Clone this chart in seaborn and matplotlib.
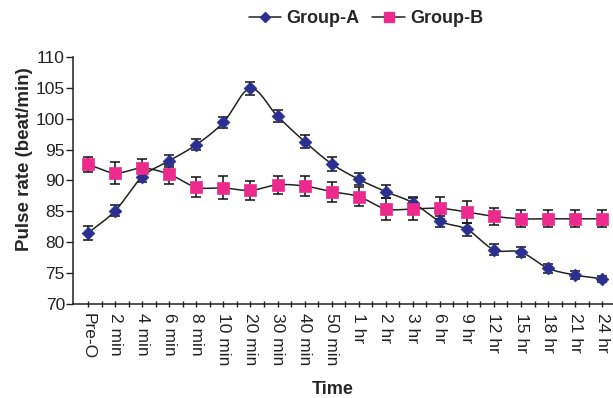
import numpy as np
import matplotlib
matplotlib.use("Agg")
import matplotlib.pyplot as plt
from matplotlib.lines import Line2D
import seaborn as sns
import pandas as pd

categories = ["Pre-O", "2 min", "4 min", "6 min", "8 min", "10 min", "20 min", "30 min",
              "40 min", "50 min", "1 hr", "2 hr", "3 hr", "6 hr", "9 hr", "12 hr",
              "15 hr", "18 hr", "21 hr", "24 hr"]
group_a = [81.5, 85.1, 90.6, 93.2, 95.8, 99.4, 104.9, 100.4, 96.3, 92.7,
           90.2, 88.2, 86.4, 83.4, 82.1, 78.8, 78.4, 75.8, 74.7, 74.1]
group_a_err = [1.2, 0.9, 0.8, 0.95, 0.9, 0.95, 1.0, 0.95, 1.0, 1.1,
               1.0, 1.0, 1.0, 0.85, 1.1, 0.85, 0.85, 0.75, 0.6, 0.45]
group_b = [92.6, 91.2, 92.0, 91.0, 88.9, 88.8, 88.4, 89.3, 89.1, 88.2,
           87.4, 85.4, 85.4, 85.5, 84.9, 84.2, 83.8, 83.8, 83.8, 83.8]
group_b_err = [1.25, 1.75, 1.45, 1.5, 1.65, 1.85, 1.55, 1.45, 1.55, 1.6,
               1.6, 1.8, 1.8, 1.75, 1.75, 1.4, 1.4, 1.4, 1.4, 1.4]
y_ticks = [70, 75, 80, 85, 90, 95, 100, 105, 110]

sns.set_style("ticks")
plt.rcParams["font.family"] = ["Liberation Sans", "DejaVu Sans"]

color_a = "#2B3090"
color_b = "#EC2A8E"

fig = plt.figure(figsize=(6.13, 3.98), dpi=100)
ax = fig.add_axes([0.1195, 0.236, 0.8805, 0.621])

x = np.arange(len(categories))
df = pd.DataFrame({"x": np.concatenate([x, x]),
                   "y": group_a + group_b,
                   "group": ["Group-A"] * len(x) + ["Group-B"] * len(x)})


def smooth(xs, ys, n=20):
    xs = np.asarray(xs, float)
    ys = np.asarray(ys, float)
    px = np.concatenate([[2 * xs[0] - xs[1]], xs, [2 * xs[-1] - xs[-2]]])
    py = np.concatenate([[2 * ys[0] - ys[1]], ys, [2 * ys[-1] - ys[-2]]])
    outx, outy = [], []
    t = np.linspace(0, 1, n, endpoint=False)
    for i in range(1, len(px) - 2):
        for arr, out in ((px, outx), (py, outy)):
            p0, p1, p2, p3 = arr[i - 1], arr[i], arr[i + 1], arr[i + 2]
            out.extend(0.5 * ((2 * p1) + (-p0 + p2) * t +
                              (2 * p0 - 5 * p1 + 4 * p2 - p3) * t ** 2 +
                              (-p0 + 3 * p1 - 3 * p2 + p3) * t ** 3))
    outx.append(xs[-1])
    outy.append(ys[-1])
    return np.array(outx), np.array(outy)


for vals, errs, col, mk, ms in ((group_a, group_a_err, color_a, "D", 6.5),
                                (group_b, group_b_err, color_b, "s", 8.5)):
    sx, sy = smooth(x, vals)
    ax.plot(sx, sy, color="#222222", lw=1.1, zorder=2)
    ax.errorbar(x, vals, yerr=errs, fmt="none", ecolor="#111111",
                elinewidth=1.1, capsize=3.5, capthick=1.1, zorder=3)
    sub = df[df["group"] == ("Group-A" if mk == "D" else "Group-B")]
    sns.scatterplot(data=sub, x="x", y="y", marker=mk, s=ms ** 2,
                    color=col, edgecolor=col, linewidth=0.5, ax=ax, zorder=4,
                    legend=False)

ax.set_xlim(-0.55, 19.4)
ax.set_ylim(70, 110)
ax.set_yticks(y_ticks)
ax.set_yticklabels([str(v) for v in y_ticks], fontsize=12.5, color="#222222")
ax.set_xticks(x)
ax.set_xticks(x[:-1] + 0.5, minor=True)
ax.set_xticklabels(categories, rotation=270, fontsize=12.5, ha="center",
                   va="top", color="#222222")
ax.tick_params(axis="x", which="both", length=5, width=1, direction="inout",
               colors="#222222", pad=4)
ax.tick_params(axis="y", length=5, width=1, colors="#222222", pad=1)
for s in ("top", "right"):
    ax.spines[s].set_visible(False)
for s in ("left", "bottom"):
    ax.spines[s].set_linewidth(1.1)
    ax.spines[s].set_color("#222222")

ax.set_xlabel("Time", fontsize=13, fontweight="bold")
ax.xaxis.set_label_coords(0.48, -0.31)
ax.set_ylabel("Pulse rate (beat/min)", fontsize=13.5, fontweight="bold")
ax.yaxis.set_label_coords(-0.074, 0.585)

handles = [Line2D([], [], color="#222222", lw=1.1, marker="D", markersize=5,
                  markerfacecolor=color_a, markeredgecolor=color_a),
           Line2D([], [], color="#222222", lw=1.1, marker="s", markersize=7,
                  markerfacecolor=color_b, markeredgecolor=color_b)]
fig.legend(handles, ["Group-A", "Group-B"], loc="center", ncol=2,
           bbox_to_anchor=(0.597, 0.953), frameon=False,
           prop={"weight": "bold", "size": 13}, handlelength=1.8,
           handletextpad=0.3, columnspacing=0.7)

fig.savefig("out.png", dpi=100)
